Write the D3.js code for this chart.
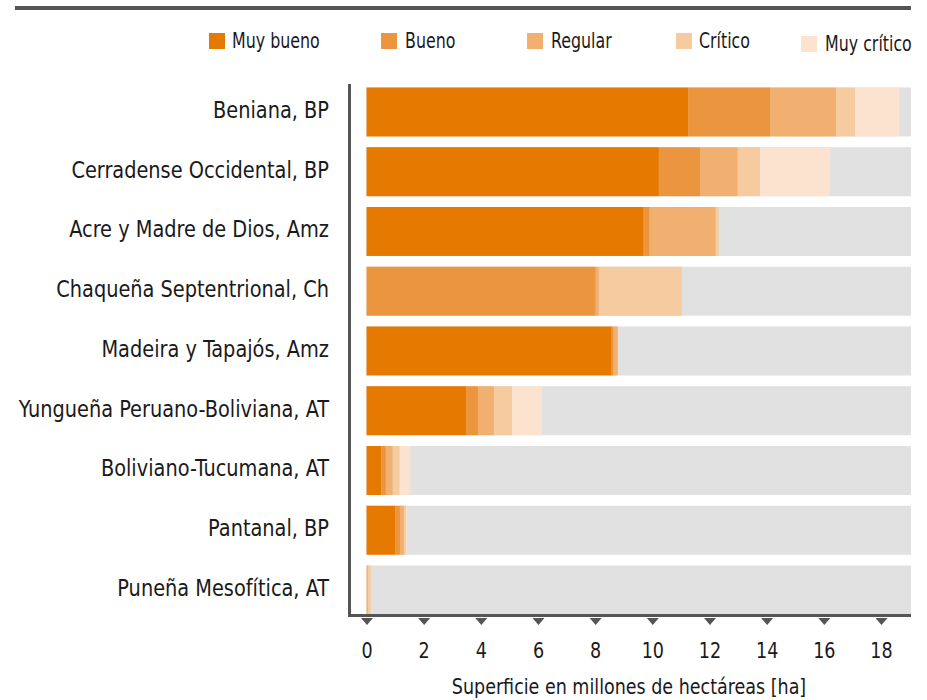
<!DOCTYPE html>
<html>
<head>
<meta charset="utf-8">
<script src="https://cdn.jsdelivr.net/npm/d3@7"></script>
<style>
  html, body { margin: 0; padding: 0; background: #fff; }
  svg { display: block; }
  text { font-family: "Liberation Sans Narrow", "DejaVu Sans Condensed", "Roboto", sans-serif; fill: #1a1a1a; }
</style>
</head>
<body>
<svg id="chart" width="927" height="700"></svg>
<script>
// ---- data ----
const categories = [
  "Beniana, BP",
  "Cerradense Occidental, BP",
  "Acre y Madre de Dios, Amz",
  "Chaqueña Septentrional, Ch",
  "Madeira y Tapajós, Amz",
  "Yungueña Peruano-Boliviana, AT",
  "Boliviano-Tucumana, AT",
  "Pantanal, BP",
  "Puneña Mesofítica, AT"
];
const seriesNames = ["Muy bueno", "Bueno", "Regular", "Crítico", "Muy crítico"];
const muyBueno   = [11.25, 10.23, 9.70, 0.00, 8.58, 3.48, 0.51, 1.00, 0.00];
const bueno      = [ 2.89,  1.44, 0.21, 8.02, 0.07, 0.42, 0.17, 0.17, 0.00];
const regular    = [ 2.29,  1.32, 2.31, 0.11, 0.14, 0.56, 0.24, 0.14, 0.05];
const critico    = [ 0.66,  0.78, 0.10, 2.90, 0.00, 0.63, 0.24, 0.07, 0.10];
const muyCritico = [ 1.54,  2.45, 0.00, 0.00, 0.00, 1.05, 0.38, 0.03, 0.00];
const xTicks = [0, 2, 4, 6, 8, 10, 12, 14, 16, 18];
const xMax = 19.05;
const xTitle = "Superficie en millones de hectáreas [ha]";

const colors = ["#e67a00", "#eb963e", "#f1b06f", "#f6cba0", "#fbe3d0"];
const bgColor = "#e1e1e1";
const axisColor = "#555555";

// ---- build ----
const rows = categories.map((c, i) => ({
  cat: c,
  "Muy bueno": muyBueno[i], "Bueno": bueno[i], "Regular": regular[i],
  "Crítico": critico[i], "Muy crítico": muyCritico[i]
}));
const stacked = d3.stack().keys(seriesNames)(rows);

const svg = d3.select("#chart");
const x = d3.scaleLinear().domain([0, xMax]).range([366.5, 911]);
const y = d3.scaleBand().domain(categories).range([82.1, 619.85])
  .paddingInner(0.18).paddingOuter(0.09);

// top rule
svg.append("rect").attr("x", 15).attr("y", 6).attr("width", 896).attr("height", 4).attr("fill", axisColor);

// background bars
svg.append("g").selectAll("rect").data(categories).join("rect")
  .attr("x", x(0)).attr("y", d => y(d))
  .attr("width", x(xMax) - x(0)).attr("height", y.bandwidth())
  .attr("fill", bgColor);

// stacked bars
svg.append("g").selectAll("g").data(stacked).join("g")
  .attr("fill", (d, i) => colors[i])
  .selectAll("rect").data(d => d.filter(s => s[1] - s[0] > 0)).join("rect")
  .attr("x", d => x(d[0]))
  .attr("y", d => y(d.data.cat))
  .attr("width", d => x(d[1]) - x(d[0]))
  .attr("height", y.bandwidth());

// axes lines
svg.append("line").attr("x1", 349.5).attr("x2", 349.5).attr("y1", 84).attr("y2", 617)
  .attr("stroke", axisColor).attr("stroke-width", 3);
svg.append("line").attr("x1", 348).attr("x2", 911).attr("y1", 615.5).attr("y2", 615.5)
  .attr("stroke", axisColor).attr("stroke-width", 3);

// category labels (condensed horizontally)
const yAxis = svg.append("g").attr("transform", "translate(329,0) scale(0.935,1)")
  .call(d3.axisLeft(y).tickSize(0).tickPadding(0));
yAxis.select(".domain").remove();
yAxis.selectAll("text")
  .attr("font-size", 23).attr("dy", null)
  .attr("y", 6).attr("x", 0)
  .attr("text-anchor", "end")
  .style("font-family", null);

// x axis ticks (triangles) and labels
const xAxis = svg.append("g").attr("transform", "translate(0,617)")
  .call(d3.axisBottom(x).tickValues(xTicks).tickSize(0).tickPadding(0));
xAxis.select(".domain").remove();
xAxis.selectAll(".tick").append("path")
  .attr("d", "M-6,1 L6,1 L0,8 Z").attr("fill", axisColor);
xAxis.selectAll("text")
  .attr("font-size", 21).attr("dy", null).attr("y", 0)
  .attr("transform", "translate(0,41) scale(0.93,1)")
  .style("font-family", null);

// x title
svg.append("text").attr("transform", `translate(${(452 + 806) / 2},694) scale(0.927,1)`)
  .attr("text-anchor", "middle").attr("font-size", 21).text(xTitle);

// legend
const legendPos = [
  {sx: 209, sy: 33, tx: 232, ty: 48},
  {sx: 381, sy: 33, tx: 405, ty: 48},
  {sx: 527, sy: 33, tx: 551, ty: 48},
  {sx: 676, sy: 33, tx: 699, ty: 48},
  {sx: 801, sy: 36, tx: 825, ty: 51}
];
const lg = svg.append("g").selectAll("g").data(seriesNames).join("g");
lg.append("rect").attr("x", (d, i) => legendPos[i].sx).attr("y", (d, i) => legendPos[i].sy)
  .attr("width", 16).attr("height", 16).attr("fill", (d, i) => colors[i]);
lg.append("text")
  .attr("transform", (d, i) => `translate(${legendPos[i].tx},${legendPos[i].ty}) scale(0.84,1)`)
  .attr("font-size", 21).text(d => d);
</script>
</body>
</html>
